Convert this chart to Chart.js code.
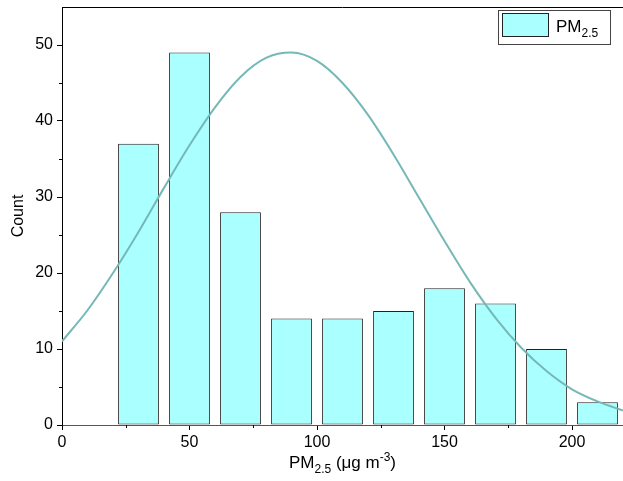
<!DOCTYPE html>
<html>
<head>
<meta charset="utf-8">
<script src="https://cdn.jsdelivr.net/npm/chart.js@4.4.0/dist/chart.umd.min.js"></script>
<style>
html,body{margin:0;padding:0;background:#fff;}
#wrap{width:623px;height:481px;}
</style>
</head>
<body>
<div id="wrap"><canvas id="c" width="623" height="481"></canvas></div>
<script>
// ---- data ----
const binCenters = [30, 50, 70, 90, 110, 130, 150, 170, 190, 210];
const counts     = [37, 49, 28, 14, 14, 15, 18, 16, 10, 3];
const curveX = [0, 10, 20, 30, 40, 50, 60, 70, 80, 90, 100, 110, 120, 130, 140, 150, 160, 170, 180, 190, 200, 210, 220];
const curveY = [11.0, 15.1, 20.0, 25.4, 31.2, 36.8, 41.8, 45.8, 48.3, 49.0, 47.9, 45.0, 40.8, 35.6, 29.9, 24.2, 18.8, 14.1, 10.2, 7.1, 4.7, 3.1, 1.9];
const xMinorTicks = [25, 75, 125, 175];
const yMinorTicks = [5, 15, 25, 35, 45];
const seriesName = ["PM", "2.5"];           // PM with subscript 2.5
const xTitleParts = [["PM", 0], ["2.5", -1], [" (\u03bcg m", 0], ["-3", 1], [")", 0]];
const yTitle = "Count";

const FONT = "'Liberation Sans', Arial, sans-serif";
const FILL = "#aaffff";
const CURVE = "#76b8b8";

const barData = binCenters.map((x, i) => ({x: x, y: counts[i]}));
const curveData = curveX.map((x, i) => ({x: x, y: curveY[i]}));

const extras = {
  id: 'extras',
  afterDraw(chart) {
    const ctx = chart.ctx;
    const xs = chart.scales.x, ys = chart.scales.y;
    const ca = chart.chartArea;
    ctx.save();
    // top frame line
    ctx.strokeStyle = '#000';
    ctx.lineWidth = 1;
    ctx.beginPath();
    ctx.moveTo(ca.left, ca.top + 0.5);
    ctx.lineTo(chart.width, ca.top + 0.5);
    ctx.stroke();
    // minor ticks
    ctx.strokeStyle = '#000';
    xMinorTicks.forEach(v => {
      const px = Math.round(xs.getPixelForValue(v)) + 0.5;
      ctx.beginPath(); ctx.moveTo(px, ca.bottom); ctx.lineTo(px, ca.bottom + 3); ctx.stroke();
    });
    yMinorTicks.forEach(v => {
      const py = Math.round(ys.getPixelForValue(v)) + 0.5;
      ctx.beginPath(); ctx.moveTo(ca.left, py); ctx.lineTo(ca.left - 3, py); ctx.stroke();
    });
    // x title with sub/superscripts
    const big = 17, small = 12;
    let total = 0;
    const widths = xTitleParts.map(([t, s]) => {
      ctx.font = (s === 0 ? big : small) + 'px ' + FONT;
      const w = ctx.measureText(t).width; total += w; return w;
    });
    let x = (ca.left + ca.right) / 2 - total / 2;
    const base = 468;
    ctx.fillStyle = '#000';
    ctx.textBaseline = 'alphabetic';
    ctx.textAlign = 'left';
    xTitleParts.forEach(([t, s], i) => {
      ctx.font = (s === 0 ? big : small) + 'px ' + FONT;
      const dy = s === -1 ? 5 : (s === 1 ? -7 : 0);
      ctx.fillText(t, x, base + dy);
      x += widths[i];
    });
    // legend
    const lx = 498, ly = 10, lw = 112, lh = 34;
    ctx.strokeStyle = '#444';
    ctx.lineWidth = 1;
    ctx.fillStyle = '#fff';
    ctx.fillRect(lx + 0.5, ly + 0.5, lw, lh);
    ctx.strokeRect(lx + 0.5, ly + 0.5, lw, lh);
    ctx.fillStyle = FILL;
    ctx.fillRect(502.5, 13.5, 46, 23);
    ctx.strokeStyle = '#222';
    ctx.strokeRect(502.5, 13.5, 46, 23);
    ctx.fillStyle = '#000';
    ctx.font = big + 'px ' + FONT;
    ctx.fillText(seriesName[0], 556, 32);
    const pw = ctx.measureText(seriesName[0]).width;
    ctx.font = small + 'px ' + FONT;
    ctx.fillText(seriesName[1], 556 + pw, 37);
    ctx.restore();
  }
};

new Chart(document.getElementById('c'), {
  type: 'bar',
  data: {
    datasets: [
      {
        type: 'line',
        label: 'fit',
        data: curveData,
        borderColor: CURVE,
        borderWidth: 2,
        pointRadius: 0,
        tension: 0.4,
        cubicInterpolationMode: 'monotone',
        fill: false,
        order: 0
      },
      {
        type: 'bar',
        label: 'PM2.5',
        data: barData,
        backgroundColor: FILL,
        borderColor: '#222',
        borderWidth: 1,
        borderSkipped: false,
        categoryPercentage: 1,
        barPercentage: 0.8,
        order: 1
      }
    ]
  },
  options: {
    responsive: false,
    animation: false,
    devicePixelRatio: 1,
    layout: {padding: {top: 7, right: 0, left: 0, bottom: 0}},
    plugins: {legend: {display: false}, tooltip: {enabled: false}},
    scales: {
      x: {
        type: 'linear',
        min: 0, max: 220,
        offset: false,
        grid: {display: true, drawOnChartArea: false, drawTicks: true, tickLength: 5, tickColor: '#000', offset: false},
        border: {display: true, color: '#555', width: 1},
        ticks: {stepSize: 50, includeBounds: false, color: '#000', font: {family: FONT, size: 16}, padding: 3, maxRotation: 0},
        afterFit(s) { s.height = 56; s.paddingLeft = 0; s.paddingRight = 0; }
      },
      y: {
        min: 0, max: 55,
        grid: {display: true, drawOnChartArea: false, drawTicks: true, tickLength: 5, tickColor: '#000'},
        border: {display: true, color: '#000', width: 1},
        ticks: {stepSize: 10, includeBounds: false, color: '#000', font: {family: FONT, size: 16}, padding: 4},
        title: {display: true, text: yTitle, color: '#000', font: {family: FONT, size: 16}, padding: {top: 9, bottom: 0}},
        afterFit(s) { s.width = 62; s.paddingTop = 0; s.paddingBottom = 0; }
      }
    }
  },
  plugins: [extras]
});
</script>
</body>
</html>
